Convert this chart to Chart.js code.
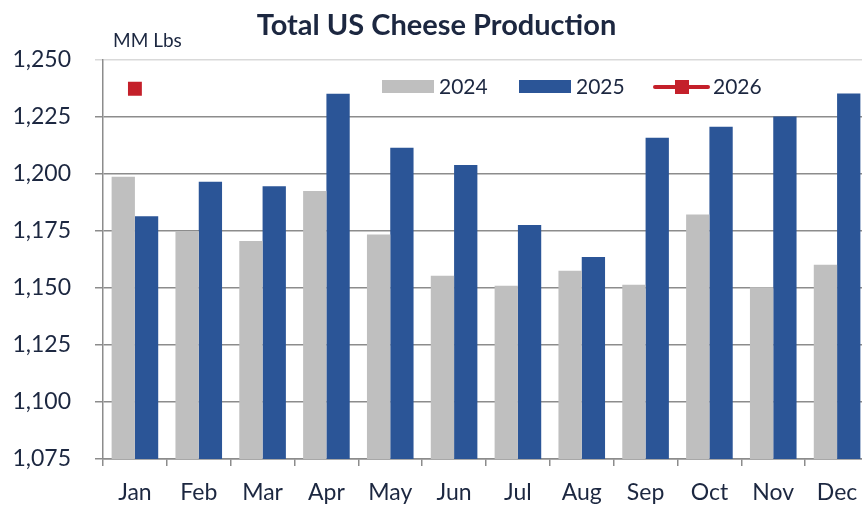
<!DOCTYPE html>
<html>
<head>
<meta charset="utf-8">
<script src="https://cdn.jsdelivr.net/npm/chart.js@4.4.1/dist/chart.umd.min.js"></script>
<style>
    html, body { margin: 0; padding: 0; background: #fff; overflow: hidden; width: 862px; height: 506px; }
    #wrap { width: 880px; height: 506px; position: relative; }
</style>
</head>
<body>
<div id="wrap"><canvas id="cheeseChart"></canvas></div>
<script>
// Data (MM Lbs)
const months = ["Jan", "Feb", "Mar", "Apr", "May", "Jun", "Jul", "Aug", "Sep", "Oct", "Nov", "Dec"];
const prod2024 = [1198.7, 1175, 1170.6, 1192.5, 1173.4, 1155.3, 1150.9, 1157.5, 1151.4, 1182.2, 1150.3, 1160.1];
const prod2025 = [1181.4, 1196.5, 1194.6, 1235.1, 1211.4, 1203.9, 1177.6, 1163.5, 1215.8, 1220.7, 1225.1, 1235.2];
const prod2026 = [1237.3, null, null, null, null, null, null, null, null, null, null, null];
const yTicks = [1075, 1100, 1125, 1150, 1175, 1200, 1225, 1250];

const textColor = "#1c2740";
const fontFamily = "Lato, 'Open Sans', sans-serif";

// Legend drawn inside the plot area, like the original
const inPlotLegend = {
    id: "inPlotLegend",
    afterDraw(chart) {
        const ctx = chart.ctx;
        const ds = chart.data.datasets;
        ctx.save();
        ctx.font = "21px " + fontFamily;
        ctx.fillStyle = textColor;
        ctx.textBaseline = "middle";

        // 2024 box
        ctx.fillStyle = ds[0].backgroundColor;
        ctx.fillRect(382, 80, 52, 13);
        ctx.fillStyle = textColor;
        ctx.fillText(ds[0].label, 439, 87);

        // 2025 box
        ctx.fillStyle = ds[1].backgroundColor;
        ctx.fillRect(519, 80, 52, 13);
        ctx.fillStyle = textColor;
        ctx.fillText(ds[1].label, 576, 87);

        // 2026 line + square
        ctx.strokeStyle = ds[2].borderColor;
        ctx.lineWidth = 4;
        ctx.lineCap = "round";
        ctx.beginPath();
        ctx.moveTo(655, 87);
        ctx.lineTo(708, 87);
        ctx.stroke();
        ctx.fillStyle = ds[2].backgroundColor;
        ctx.fillRect(675, 80, 14, 14);
        ctx.fillStyle = textColor;
        ctx.fillText(ds[2].label, 713, 87);

        // unit label
        ctx.font = "19px " + fontFamily;
        ctx.fillText("MM Lbs", 113, 41);
        ctx.restore();
    }
};

new Chart(document.getElementById("cheeseChart"), {
    data: {
        labels: months,
        datasets: [
            { type: "bar", label: "2024", data: prod2024, backgroundColor: "#bfbfbf", order: 2 },
            { type: "bar", label: "2025", data: prod2025, backgroundColor: "#2b5597", order: 2 },
            {
                type: "line", label: "2026", data: prod2026,
                borderColor: "#c4202a", backgroundColor: "#c4202a", borderWidth: 4,
                pointStyle: "rect", pointRadius: 7, pointHoverRadius: 7, order: 1
            }
        ]
    },
    options: {
        responsive: true,
        maintainAspectRatio: false,
        animation: false,
        layout: { padding: { left: 0, right: 7, top: 0, bottom: 0 } },
        datasets: {
            bar: { categoryPercentage: 0.73, barPercentage: 1.0 }
        },
        plugins: {
            legend: { display: false },
            tooltip: { enabled: false },
            title: {
                display: true,
                text: "Total US Cheese Production",
                color: textColor,
                font: { family: fontFamily, size: 29, weight: "bold" },
                padding: { top: 8, bottom: 17 }
            }
        },
        scales: {
            x: {
                offset: true,
                grid: {
                    offset: true,
                    drawOnChartArea: false,
                    drawTicks: true,
                    tickLength: 7,
                    color: "#8c8c8c",
                    lineWidth: 1.5
                },
                border: { color: "#8c8c8c", width: 1.5 },
                ticks: {
                    color: textColor,
                    padding: 13,
                    maxRotation: 0,
                    autoSkip: false,
                    font: { family: fontFamily, size: 23 }
                },
                afterFit(scale) { scale.height = 47; }
            },
            y: {
                min: 1075,
                max: 1250,
                afterBuildTicks(scale) { scale.ticks = yTicks.map(v => ({ value: v })); },
                grid: {
                    color: ctx => ctx.tick && ctx.tick.value === 1250 ? "#d9d9d9" : "#8c8c8c",
                    lineWidth: 1.5,
                    tickLength: 8
                },
                border: { color: "#8c8c8c", width: 1.5 },
                ticks: {
                    color: textColor,
                    padding: 24,
                    font: { family: fontFamily, size: 23 },
                    callback: v => v.toLocaleString("en-US")
                },
                afterFit(scale) { scale.width = 103; }
            }
        }
    },
    plugins: [inPlotLegend]
});
</script>
</body>
</html>
